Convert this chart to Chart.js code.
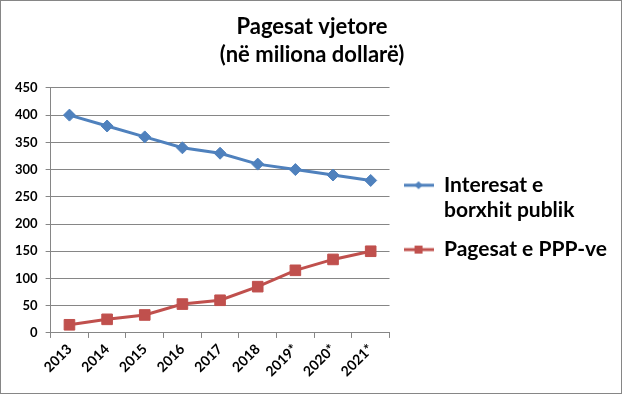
<!DOCTYPE html>
<html>
<head>
<meta charset="utf-8">
<script src="https://cdn.jsdelivr.net/npm/chart.js@4"></script>
<style>
  html, body { margin: 0; padding: 0; background: #fff; }
  #wrap {
    position: relative;
    width: 622px;
    height: 394px;
    box-sizing: border-box;
    border: 1px solid #868686;
  }
</style>
</head>
<body>
<div id="wrap"><canvas id="chart"></canvas></div>
<script>
// data
const years = ["2013", "2014", "2015", "2016", "2017", "2018", "2019*", "2020*", "2021*"];
const interesat = [400, 380, 360, 340, 330, 310, 300, 290, 280];
const pagesatPPP = [15, 25, 33, 53, 60, 85, 115, 135, 150];
const seriesNames = ["Interesat e borxhit publik", "Pagesat e PPP-ve"];
const legendLines = [["Interesat e", "borxhit publik"], ["Pagesat e PPP-ve"]];
const titleLines = ["Pagesat vjetore", "(në miliona dollarë)"];

const BLUE = "#4F81BD";
const RED = "#C0504D";
const GRID = "#868686";
const FONT = "Lato, 'Open Sans', sans-serif";

// small line + marker images for the legend
function legendMark(color, shape) {
	const c = document.createElement("canvas");
	c.width = 30;
	c.height = 12;
	const g = c.getContext("2d");
	g.strokeStyle = color;
	g.lineWidth = 3;
	g.beginPath();
	g.moveTo(0, 6);
	g.lineTo(30, 6);
	g.stroke();
	g.fillStyle = color;
	g.beginPath();
	if (shape === "diamond") {
		g.moveTo(15, 2);
		g.lineTo(19, 6);
		g.lineTo(15, 10);
		g.lineTo(11, 6);
	} else {
		g.rect(11, 2, 8, 8);
	}
	g.closePath();
	g.fill();
	return c;
}
const marks = [legendMark(BLUE, "diamond"), legendMark(RED, "square")];

const ctx = document.getElementById("chart").getContext("2d");
new Chart(ctx, {
	type: "line",
	data: {
		labels: years,
		datasets: [
			{
				label: seriesNames[0],
				data: interesat,
				borderColor: BLUE,
				backgroundColor: BLUE,
				borderWidth: 3,
				pointStyle: "rectRot",
				pointRadius: 6,
				pointBorderWidth: 1,
				tension: 0,
			},
			{
				label: seriesNames[1],
				data: pagesatPPP,
				borderColor: RED,
				backgroundColor: RED,
				borderWidth: 3,
				pointStyle: "rect",
				pointRadius: 7.5,
				pointBorderWidth: 1,
				tension: 0,
			},
		],
	},
	options: {
		responsive: true,
		maintainAspectRatio: false,
		animation: false,
		layout: { padding: { left: 6, right: 4, top: 3, bottom: 10 } },
		scales: {
			x: {
				offset: true,
				grid: {
					offset: true,
					drawOnChartArea: false,
					drawTicks: true,
					tickLength: 5,
					color: GRID,
				},
				border: { color: GRID, width: 1 },
				ticks: {
					color: "#000",
					font: { family: FONT, size: 14, weight: "bold" },
					minRotation: 45,
					maxRotation: 45,
					padding: 3,
				},
			},
			y: {
				min: 0,
				max: 450,
				grid: { color: GRID, tickLength: 5 },
				border: { color: GRID, width: 1 },
				ticks: {
					stepSize: 50,
					color: "#000",
					font: { family: FONT, size: 13, weight: "bold" },
					padding: 8,
				},
			},
		},
		plugins: {
			title: {
				display: true,
				text: titleLines,
				color: "#000",
				font: { family: FONT, size: 22, weight: "bold", lineHeight: 1.27 },
				padding: { top: 9, bottom: 19 },
			},
			legend: {
				position: "right",
				maxWidth: 260,
				title: { display: true, text: " ", font: { size: 10 }, padding: 20 },
				labels: {
					color: "#000",
					font: { family: FONT, size: 21, weight: "bold", lineHeight: 1.2 },
					usePointStyle: true,
					pointStyleWidth: 30,
					padding: 14,
					generateLabels: (chart) =>
						chart.data.datasets.map((ds, i) => ({
							text: legendLines[i],
							fillStyle: ds.borderColor,
							strokeStyle: ds.borderColor,
							fontColor: "#000",
							pointStyle: marks[i],
							lineWidth: 0,
							hidden: false,
							datasetIndex: i,
						})),
				},
			},
			tooltip: { enabled: false },
		},
	},
});
</script>
</body>
</html>
